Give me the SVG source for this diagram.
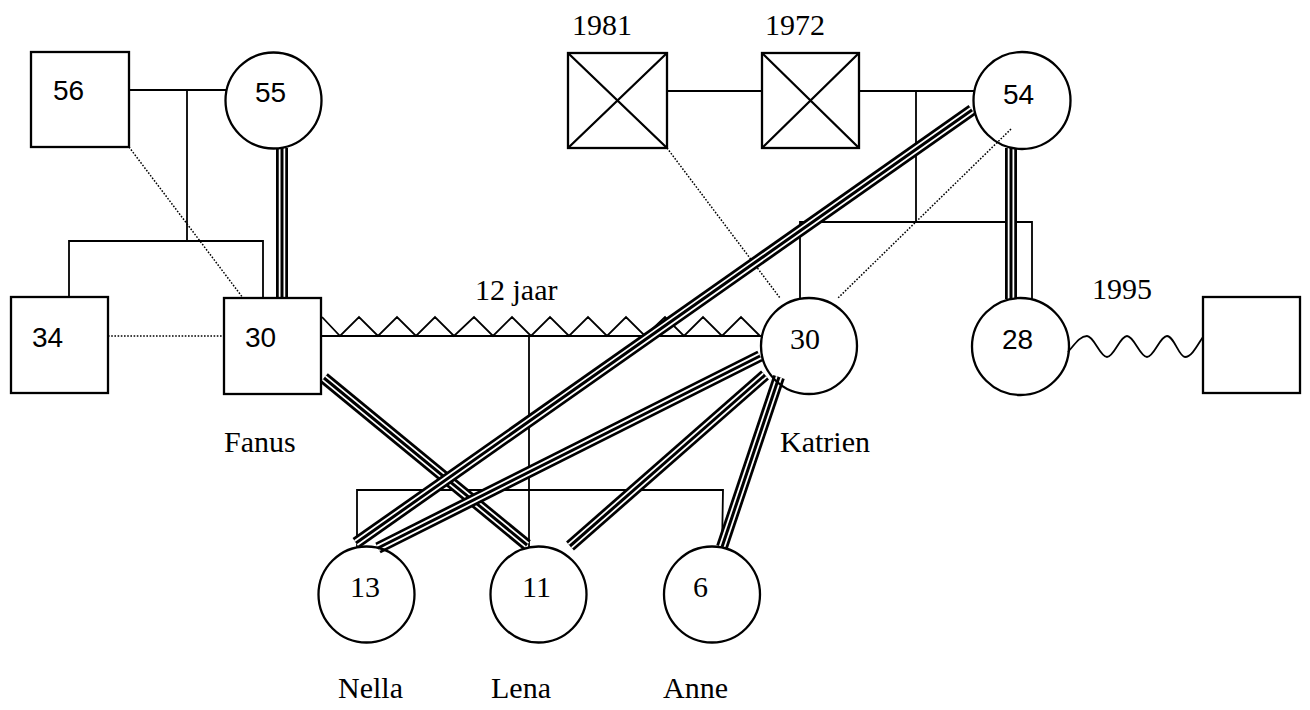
<svg xmlns="http://www.w3.org/2000/svg" width="1310" height="710" viewBox="0 0 1310 710">
<style>
.box{fill:none;stroke:#000;stroke-width:2.3}
.ln{fill:none;stroke:#000;stroke-width:1.8}
.dot{fill:none;stroke:#000;stroke-width:1.5;stroke-dasharray:1.6 1.6}
.t3a{fill:none;stroke:#000;stroke-width:12}
.t3b{fill:none;stroke:#fff;stroke-width:6.5}
.t3c{fill:none;stroke:#000;stroke-width:3}
.num{font-family:"Liberation Sans",Arial,sans-serif;font-size:28px;fill:#000}
.ser{font-family:"Liberation Serif","Times New Roman",serif;font-size:30px;fill:#000}
</style>
<rect width="1310" height="710" fill="#fff"/>
<g id="connectors">
<polyline class="ln" points="129,90 226,90"/>
<polyline class="ln" points="187,90 187,241"/>
<polyline class="ln" points="69,297 69,241 263,241 263,298"/>
<polyline class="ln" points="667,91 762,91"/>
<polyline class="ln" points="859,91 974,91"/>
<polyline class="ln" points="916,91 916,222"/>
<polyline class="ln" points="800,299 800,222 1032,222 1032,300"/>
<polyline class="ln" points="321,336 761,336"/>
<polyline class="ln" points="322,317 340,336 359,317 378,336 397,317 416,336 435,317 454,336 474,317 493,336 512,317 531,336 550,317 569,336 588,317 607,336 626,317 645,336 665,317 684,336 703,317 722,336 741,317 760,336"/>
<polyline class="ln" points="529,336 529,547"/>
<polyline class="ln" points="357,548 357,490 723,490 722,548"/>
<path class="ln" d="M1068,352 C1075,344 1080,336 1087,336 C1094,336 1100,357 1107,357 C1114,357 1120,336 1127,336 C1134,336 1140,357 1147,357 C1154,357 1160,336 1167,336 C1174,336 1179,357 1185,357 C1192,357 1198,344 1203,337"/>
<line class="dot" x1="108" y1="336" x2="224" y2="336"/>
<line class="dot" x1="129" y1="147" x2="243" y2="298"/>
<line class="dot" x1="667" y1="148" x2="780" y2="298"/>
<line class="dot" x1="1011" y1="129" x2="838" y2="298"/>
<g id="t1"><line class="t3a" x1="282" y1="148" x2="282" y2="298"/><line class="t3b" x1="282" y1="148" x2="282" y2="298"/><line class="t3c" x1="282" y1="148" x2="282" y2="298"/></g>
<g id="t2"><line class="t3a" x1="1011" y1="148" x2="1011" y2="299"/><line class="t3b" x1="1011" y1="148" x2="1011" y2="299"/><line class="t3c" x1="1011" y1="148" x2="1011" y2="299"/></g>
<g id="t4"><line class="t3a" x1="324" y1="378" x2="527" y2="545"/><line class="t3b" x1="324" y1="378" x2="527" y2="545"/><line class="t3c" x1="324" y1="378" x2="527" y2="545"/></g>
<g id="t3"><line class="t3a" x1="972" y1="110" x2="356" y2="543"/><line class="t3b" x1="972" y1="110" x2="356" y2="543"/><line class="t3c" x1="972" y1="110" x2="356" y2="543"/></g>
<g id="t5"><line class="t3a" x1="760" y1="356" x2="378" y2="548"/><line class="t3b" x1="760" y1="356" x2="378" y2="548"/><line class="t3c" x1="760" y1="356" x2="378" y2="548"/></g>
<g id="t6"><line class="t3a" x1="765" y1="375" x2="570" y2="546"/><line class="t3b" x1="765" y1="375" x2="570" y2="546"/><line class="t3c" x1="765" y1="375" x2="570" y2="546"/></g>
<g id="t7"><line class="t3a" x1="779" y1="377" x2="722" y2="547"/><line class="t3b" x1="779" y1="377" x2="722" y2="547"/><line class="t3c" x1="779" y1="377" x2="722" y2="547"/></g>
</g>
<g id="n56"><rect class="box" x="31" y="52" width="98" height="95"/><text class="num" x="53" y="100">56</text></g>
<g id="n55"><circle class="box" cx="273.5" cy="100.5" r="48"/><text class="num" x="255" y="102">55</text></g>
<g id="n34"><rect class="box" x="11" y="297" width="97" height="96"/><text class="num" x="32" y="347">34</text></g>
<g id="fanus"><rect class="box" x="224" y="298" width="97" height="96"/><text class="num" x="245" y="347">30</text><text class="ser" x="224" y="452">Fanus</text></g>
<g id="n1981"><rect class="box" x="568" y="53" width="99" height="95"/><path class="box" d="M568,53 L667,148 M667,53 L568,148"/><text class="ser" x="572" y="35">1981</text></g>
<g id="n1972"><rect class="box" x="762" y="53" width="97" height="95"/><path class="box" d="M762,53 L859,148 M859,53 L762,148"/><text class="ser" x="765" y="35">1972</text></g>
<g id="n54"><circle class="box" cx="1022" cy="100.5" r="48.5"/><text class="num" x="1003" y="104">54</text></g>
<g id="katrien"><circle class="box" cx="809" cy="346" r="48"/><text class="ser" x="790" y="349">30</text><text class="ser" x="780" y="452">Katrien</text></g>
<g id="n28"><circle class="box" cx="1020.5" cy="346.5" r="48.5"/><text class="num" x="1002" y="349">28</text></g>
<g id="partner"><rect class="box" x="1203" y="297" width="97" height="96"/></g>
<g id="nella"><circle class="box" cx="366.5" cy="594.5" r="48"/><text class="ser" x="350" y="597">13</text><text class="ser" x="338" y="698">Nella</text></g>
<g id="lena"><circle class="box" cx="538.5" cy="594.5" r="48"/><text class="ser" x="522" y="597">11</text><text class="ser" x="491" y="698">Lena</text></g>
<g id="anne"><circle class="box" cx="712" cy="594.5" r="48"/><text class="ser" x="693" y="597">6</text><text class="ser" x="663" y="698">Anne</text></g>
<g id="labels"><text class="ser" x="475" y="300">12 jaar</text><text class="ser" x="1092" y="299">1995</text></g>
</svg>
